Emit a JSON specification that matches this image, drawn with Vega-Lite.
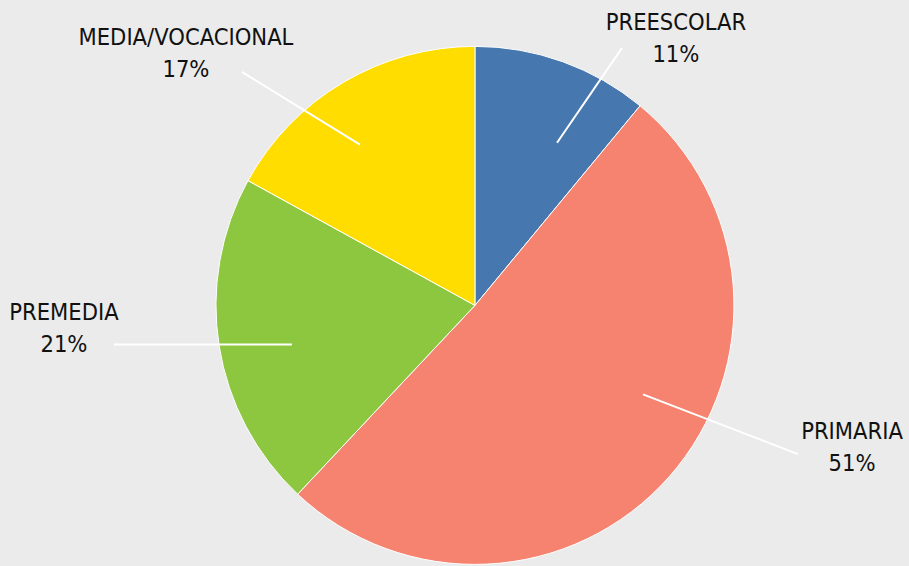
{
  "$schema": "https://vega.github.io/schema/vega-lite/v6.json",
  "width": 909,
  "height": 566,
  "autosize": {"type": "fit", "contains": "padding"},
  "padding": 0,
  "background": "#EBEBEB",
  "config": {"view": {"stroke": null}},
  "datasets": {
    "niveles": [
      {"nivel": "PREESCOLAR", "pct": 11, "orden": 1},
      {"nivel": "PRIMARIA", "pct": 51, "orden": 2},
      {"nivel": "PREMEDIA", "pct": 21, "orden": 3},
      {"nivel": "MEDIA/VOCACIONAL", "pct": 17, "orden": 4}
    ],
    "etiquetas": [
      {"nivel": "PREESCOLAR", "texto": "PREESCOLAR\n11%", "lx": 0.776, "ly": 1.066},
      {"nivel": "MEDIA/VOCACIONAL", "texto": "MEDIA/VOCACIONAL\n17%", "lx": -1.116, "ly": 1.008},
      {"nivel": "PREMEDIA", "texto": "PREMEDIA\n21%", "lx": -1.587, "ly": -0.058},
      {"nivel": "PRIMARIA", "texto": "PRIMARIA\n51%", "lx": 1.456, "ly": -0.517}
    ],
    "guias": [
      {"nivel": "PREESCOLAR", "x1": 0.317, "y1": 0.629, "x2": 0.568, "y2": 0.996},
      {"nivel": "MEDIA/VOCACIONAL", "x1": -0.900, "y1": 0.903, "x2": -0.444, "y2": 0.622},
      {"nivel": "PREMEDIA", "x1": -1.394, "y1": -0.151, "x2": -0.707, "y2": -0.151},
      {"nivel": "PRIMARIA", "x1": 0.649, "y1": -0.344, "x2": 1.247, "y2": -0.575}
    ]
  },
  "layer": [
    {
      "data": {"name": "niveles"},
      "mark": {"type": "arc", "outerRadius": 259, "stroke": "white", "strokeWidth": 1},
      "encoding": {
        "x": {"datum": 0, "type": "quantitative", "scale": {"domain": [-1.834, 1.676], "nice": false, "zero": false}, "axis": null},
        "y": {"datum": 0, "type": "quantitative", "scale": {"domain": [-1.004, 1.181], "nice": false, "zero": false}, "axis": null},
        "theta": {"field": "pct", "type": "quantitative", "stack": true},
        "order": {"field": "orden", "type": "quantitative"},
        "color": {
          "field": "nivel",
          "type": "nominal",
          "scale": {
            "domain": ["PREESCOLAR", "PRIMARIA", "PREMEDIA", "MEDIA/VOCACIONAL"],
            "range": ["#4677AE", "#F5836F", "#8DC63F", "#FFDD00"]
          },
          "legend": null
        }
      }
    },
    {
      "data": {"name": "guias"},
      "mark": {"type": "rule", "color": "white", "strokeWidth": 2},
      "encoding": {
        "x": {"field": "x1", "type": "quantitative"},
        "y": {"field": "y1", "type": "quantitative"},
        "x2": {"field": "x2"},
        "y2": {"field": "y2"}
      }
    },
    {
      "data": {"name": "etiquetas"},
      "mark": {
        "type": "text",
        "font": "DejaVu Sans Condensed, Liberation Sans Narrow, Open Sans",
        "fontSize": 23.5,
        "lineBreak": "\n",
        "lineHeight": 32,
        "align": "center",
        "baseline": "alphabetic",
        "color": "#111111"
      },
      "encoding": {
        "x": {"field": "lx", "type": "quantitative"},
        "y": {"field": "ly", "type": "quantitative"},
        "text": {"field": "texto"}
      }
    }
  ]
}
